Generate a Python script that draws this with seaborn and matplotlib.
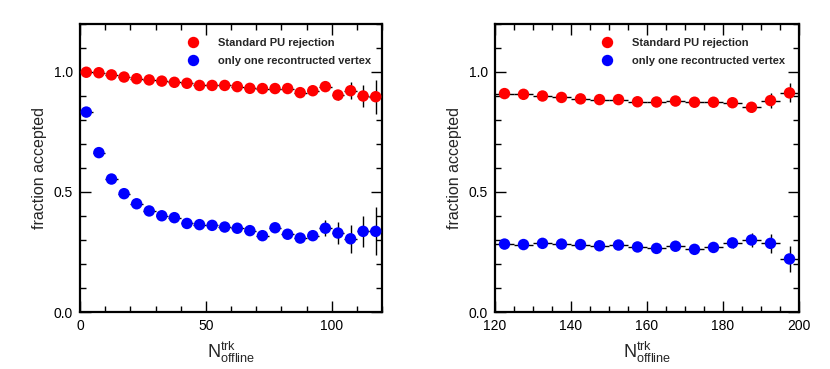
import matplotlib
matplotlib.use("Agg")
import matplotlib.pyplot as plt
from matplotlib.ticker import MultipleLocator, FixedLocator
from matplotlib.lines import Line2D
import numpy as np
import pandas as pd
import seaborn as sns

# ---------------- data ----------------
series_names = ["Standard PU rejection", "only one recontructed vertex"]
colors = {"Standard PU rejection": "#ff0000", "only one recontructed vertex": "#0000ff"}
bin_half_width = 2.5

left_x = [2.5, 7.5, 12.5, 17.5, 22.5, 27.5, 32.5, 37.5, 42.5, 47.5, 52.5, 57.5,
          62.5, 67.5, 72.5, 77.5, 82.5, 87.5, 92.5, 97.5, 102.5, 107.5, 112.5, 117.5]
left_std = [0.999, 0.997, 0.988, 0.979, 0.972, 0.967, 0.962, 0.957, 0.953, 0.944, 0.944, 0.944,
            0.939, 0.932, 0.931, 0.931, 0.931, 0.914, 0.922, 0.939, 0.904, 0.922, 0.900, 0.897]
left_std_err = [0.002, 0.002, 0.003, 0.003, 0.003, 0.004, 0.004, 0.004, 0.005, 0.005, 0.005, 0.006,
                0.006, 0.007, 0.007, 0.008, 0.009, 0.010, 0.012, 0.015, 0.022, 0.036, 0.046, 0.070]
left_one = [0.833, 0.664, 0.554, 0.493, 0.451, 0.421, 0.401, 0.393, 0.369, 0.364, 0.361, 0.354,
            0.349, 0.339, 0.318, 0.351, 0.324, 0.308, 0.318, 0.349, 0.329, 0.305, 0.336, 0.336]
left_one_err = [0.006, 0.006, 0.006, 0.006, 0.006, 0.006, 0.006, 0.007, 0.007, 0.007, 0.008, 0.008,
                0.009, 0.010, 0.011, 0.012, 0.013, 0.015, 0.020, 0.033, 0.045, 0.058, 0.066, 0.100]

right_x = [122.5, 127.5, 132.5, 137.5, 142.5, 147.5, 152.5, 157.5,
           162.5, 167.5, 172.5, 177.5, 182.5, 187.5, 192.5, 197.5]
right_std = [0.910, 0.907, 0.900, 0.894, 0.888, 0.885, 0.885, 0.876,
             0.875, 0.879, 0.874, 0.874, 0.872, 0.853, 0.881, 0.913]
right_std_err = [0.004, 0.004, 0.004, 0.005, 0.005, 0.005, 0.006, 0.006,
                 0.007, 0.007, 0.008, 0.009, 0.010, 0.020, 0.030, 0.040]
right_one = [0.283, 0.281, 0.286, 0.283, 0.281, 0.276, 0.279, 0.271,
             0.265, 0.274, 0.261, 0.269, 0.288, 0.300, 0.286, 0.221]
right_one_err = [0.005, 0.005, 0.006, 0.006, 0.006, 0.007, 0.007, 0.008,
                 0.009, 0.010, 0.011, 0.012, 0.020, 0.030, 0.040, 0.055]

y_ticks = [0.0, 0.5, 1.0]
y_tick_labels = ["0.0", "0.5", "1.0"]
left_xticks = [0, 50, 100]
right_xticks = [120, 140, 160, 180, 200]

# ---------------- style ----------------
sns.set_theme(style="ticks")
plt.rcParams['font.family'] = ['Liberation Sans', 'DejaVu Sans']
plt.rcParams['mathtext.fontset'] = 'custom'
plt.rcParams['mathtext.rm'] = 'Liberation Sans'
plt.rcParams['mathtext.it'] = 'Liberation Sans'
plt.rcParams['mathtext.bf'] = 'Liberation Sans:bold'

fig = plt.figure(figsize=(8.3, 3.69), dpi=100)
ax1 = fig.add_axes([80/830, 57/369, 302/830, 288/369])
ax2 = fig.add_axes([495/830, 57/369, 304/830, 288/369])


def panel(ax, x, std, std_err, one, one_err, xlim, xticks, xminor, leg_x):
    df = pd.DataFrame({
        "x": list(x) + list(x),
        "y": list(std) + list(one),
        "err": list(std_err) + list(one_err),
        "series": [series_names[0]] * len(x) + [series_names[1]] * len(x),
    })
    ax.errorbar(df["x"], df["y"], xerr=bin_half_width, yerr=df["err"], fmt="none",
                ecolor="black", elinewidth=1.0, capsize=0, zorder=2)
    sns.scatterplot(data=df, x="x", y="y", hue="series", palette=colors, s=68,
                    edgecolor="none", linewidth=0, ax=ax, legend=False, zorder=3)
    ax.set_xlim(*xlim)
    ax.set_ylim(0, 1.2)
    ax.xaxis.set_major_locator(FixedLocator(xticks))
    ax.xaxis.set_minor_locator(MultipleLocator(xminor))
    ax.yaxis.set_major_locator(FixedLocator(y_ticks))
    ax.yaxis.set_minor_locator(MultipleLocator(0.1))
    ax.set_yticklabels(y_tick_labels)
    ax.tick_params(which="both", direction="in", top=True, right=True, colors="black",
                   labelsize=10, width=1.0)
    ax.tick_params(which="major", length=8, pad=5)
    ax.tick_params(which="minor", length=4)
    for s in ax.spines.values():
        s.set_linewidth(1.6)
        s.set_color("black")
    ax.set_xlabel(r"$\mathregular{N^{trk}_{offline}}$", fontsize=13, labelpad=5)
    ax.set_ylabel("fraction accepted", fontsize=11.5, labelpad=5)
    handles = [Line2D([], [], marker="o", linestyle="none", markersize=8.2,
                      markerfacecolor=colors[n], markeredgecolor="none") for n in series_names]
    ax.legend(handles, series_names, loc="upper left", bbox_to_anchor=(leg_x, 0.951),
              frameon=False, borderpad=0, borderaxespad=0, handlelength=2.0,
              handletextpad=1.25, labelspacing=0.72,
              prop={"size": 8, "weight": "bold", "family": "Liberation Sans"})


panel(ax1, left_x, left_std, left_std_err, left_one, left_one_err, (0, 120), left_xticks, 10, 0.337)
panel(ax2, right_x, right_std, right_std_err, right_one, right_one_err, (120, 200), right_xticks, 5, 0.332)

fig.savefig("out.png", dpi=100)
